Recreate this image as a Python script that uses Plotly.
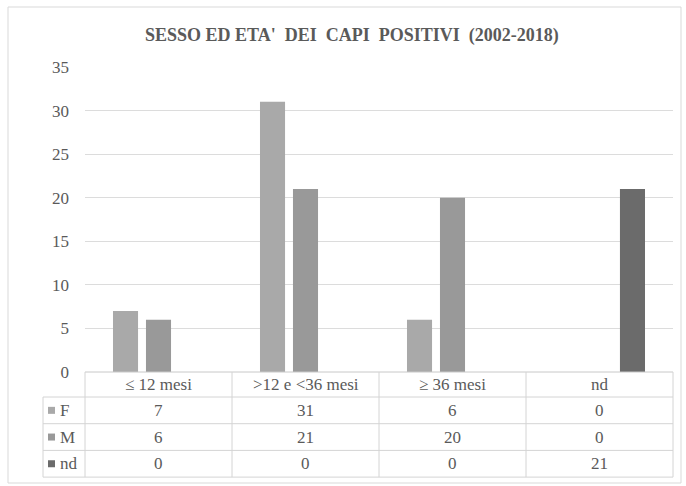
import plotly.graph_objects as go

# Age classes of the positive animals and counts by sex
categories = ["≤ 12 mesi", ">12 e <36 mesi", "≥ 36 mesi", "nd"]
series_names = ["F", "M", "nd"]
values_f = [7, 31, 6, 0]
values_m = [6, 21, 20, 0]
values_nd = [0, 0, 0, 21]
y_ticks = [0, 5, 10, 15, 20, 25, 30, 35]

title_text = "SESSO ED ETA'  DEI  CAPI  POSITIVI  (2002-2018)"

colors = {"F": "#a9a9a9", "M": "#999999", "nd": "#6b6b6b"}
series_values = {"F": values_f, "M": values_m, "nd": values_nd}

FONT = "Liberation Serif"
TEXT_COLOR = "#5a5a5a"
LINE_COLOR = "#d4d4d4"
TXT = 17

# figure geometry (pixels)
FIG_W, FIG_H = 686, 486
PL, PR, PT, PB = 85, 673, 67, 372
PW, PH = PR - PL, PB - PT


def px_x(x):
    return (x - PL) / PW


def px_y(y):
    return (PB - y) / PH


fig = go.Figure()
for name in series_names:
    fig.add_trace(go.Bar(
        x=categories, y=series_values[name], name=name,
        marker=dict(color=colors[name], line=dict(width=0)),
        showlegend=False,
    ))

shapes = []
annotations = []

# outer chart frame
shapes.append(dict(type="rect", xref="paper", yref="paper",
                   x0=px_x(8), x1=px_x(681), y0=px_y(7), y1=px_y(483),
                   line=dict(color="#d9d9d9", width=1), fillcolor="rgba(0,0,0,0)",
                   layer="below"))

# data table below the plot
header_top, header_bot = 372, 397
row_h = 26.7
row_tops = [header_bot + i * row_h for i in range(len(series_names) + 1)]
label_left = 43

# horizontal lines
shapes.append(dict(type="line", xref="paper", yref="paper",
                   x0=0, x1=1, y0=px_y(header_top), y1=px_y(header_top),
                   line=dict(color="#c8c8c8", width=1)))
for i, yy in enumerate(row_tops):
    shapes.append(dict(type="line", xref="paper", yref="paper",
                       x0=px_x(label_left), x1=1, y0=px_y(yy), y1=px_y(yy),
                       line=dict(color=LINE_COLOR, width=1)))
# vertical lines: category boundaries and table edges
shapes.append(dict(type="line", xref="paper", yref="paper",
                   x0=0, x1=0, y0=px_y(header_top), y1=px_y(row_tops[-1]),
                   line=dict(color=LINE_COLOR, width=1)))
shapes.append(dict(type="line", xref="paper", yref="paper",
                   x0=1, x1=1, y0=px_y(header_top), y1=px_y(row_tops[-1]),
                   line=dict(color=LINE_COLOR, width=1)))
shapes.append(dict(type="line", xref="paper", yref="paper",
                   x0=px_x(label_left), x1=px_x(label_left),
                   y0=px_y(row_tops[0]), y1=px_y(row_tops[-1]),
                   line=dict(color=LINE_COLOR, width=1)))
for k in range(1, len(categories)):
    shapes.append(dict(type="line", xref="x", yref="paper",
                       x0=k - 0.5, x1=k - 0.5,
                       y0=px_y(header_top), y1=px_y(row_tops[-1]),
                       line=dict(color=LINE_COLOR, width=1)))

# header row with the category names
for cat in categories:
    annotations.append(dict(x=cat, xref="x", y=px_y((header_top + header_bot) / 2),
                            yref="paper", text=cat, showarrow=False,
                            font=dict(family=FONT, size=TXT, color=TEXT_COLOR),
                            xanchor="center", yanchor="middle"))

# one row per series: legend key, name, values
for i, name in enumerate(series_names):
    yc = row_tops[i] + row_h / 2
    shapes.append(dict(type="rect", xref="paper", yref="paper",
                       x0=px_x(48), x1=px_x(55), y0=px_y(yc - 3.5), y1=px_y(yc + 3.5),
                       line=dict(width=0), fillcolor=colors[name]))
    annotations.append(dict(x=px_x(58), xref="paper", y=px_y(yc), yref="paper",
                            text=name, showarrow=False,
                            font=dict(family=FONT, size=TXT, color=TEXT_COLOR),
                            xanchor="left", yanchor="middle"))
    for cat, v in zip(categories, series_values[name]):
        annotations.append(dict(x=cat, xref="x", y=px_y(yc), yref="paper",
                                text=str(v), showarrow=False,
                                font=dict(family=FONT, size=TXT, color=TEXT_COLOR),
                                xanchor="center", yanchor="middle"))

fig.update_layout(
    width=FIG_W, height=FIG_H,
    margin=dict(l=PL, r=FIG_W - PR, t=PT, b=FIG_H - PB, pad=0),
    paper_bgcolor="white", plot_bgcolor="white",
    title=dict(text="<b>" + title_text + "</b>", x=0.513, xanchor="center",
               y=1 - 35 / FIG_H, yanchor="middle",
               font=dict(family=FONT, size=18, color=TEXT_COLOR)),
    barmode="group", bargap=0.327, bargroupgap=0.24,
    xaxis=dict(showticklabels=False, showgrid=False, showline=False,
               zeroline=False, ticks="", range=[-0.5, len(categories) - 0.5]),
    yaxis=dict(range=[0, 35], tickvals=y_ticks, showgrid=True,
               gridcolor="#dcdcdc", gridwidth=1, zeroline=False, showline=False,
               ticks="", ticklabelstandoff=15,
               tickfont=dict(family=FONT, size=TXT, color=TEXT_COLOR)),
    shapes=shapes, annotations=annotations,
)

fig.write_html("out.html")
